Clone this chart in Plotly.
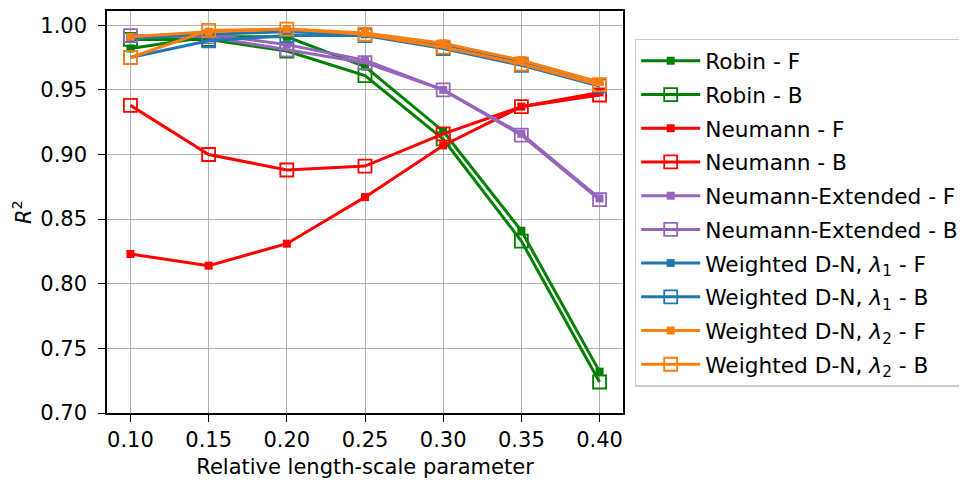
import plotly.graph_objects as go

x_vals = [0.10, 0.15, 0.20, 0.25, 0.30, 0.35, 0.40]

robin_f = [0.982, 0.991, 0.991, 0.968, 0.918, 0.841, 0.732]
robin_b = [0.989, 0.989, 0.980, 0.961, 0.912, 0.833, 0.724]
neumann_f = [0.823, 0.814, 0.831, 0.867, 0.907, 0.937, 0.948]
neumann_b = [0.938, 0.900, 0.888, 0.891, 0.916, 0.937, 0.946]
next_f = [0.990, 0.993, 0.985, 0.973, 0.950, 0.916, 0.866]
next_b = [0.992, 0.991, 0.981, 0.971, 0.950, 0.915, 0.865]
wdn1_f = [0.990, 0.993, 0.995, 0.993, 0.985, 0.972, 0.956]
wdn1_b = [0.975, 0.988, 0.992, 0.992, 0.982, 0.969, 0.953]
wdn2_f = [0.991, 0.995, 0.997, 0.994, 0.986, 0.973, 0.956]
wdn2_b = [0.975, 0.996, 0.997, 0.993, 0.983, 0.970, 0.954]

x_ticks = [0.10, 0.15, 0.20, 0.25, 0.30, 0.35, 0.40]
y_ticks = [0.70, 0.75, 0.80, 0.85, 0.90, 0.95, 1.00]

series = [
    ("Robin - F", robin_f, "#008000", "F"),
    ("Robin - B", robin_b, "#008000", "B"),
    ("Neumann - F", neumann_f, "#ff0000", "F"),
    ("Neumann - B", neumann_b, "#ff0000", "B"),
    ("Neumann-Extended - F", next_f, "#9467bd", "F"),
    ("Neumann-Extended - B", next_b, "#9467bd", "B"),
    ("Weighted D-N, <i>λ</i><sub>1</sub> - F", wdn1_f, "#1f77b4", "F"),
    ("Weighted D-N, <i>λ</i><sub>1</sub> - B", wdn1_b, "#1f77b4", "B"),
    ("Weighted D-N, <i>λ</i><sub>2</sub> - F", wdn2_f, "#ff7f0e", "F"),
    ("Weighted D-N, <i>λ</i><sub>2</sub> - B", wdn2_b, "#ff7f0e", "B"),
]

fig = go.Figure()
for i, (name, vals, color, kind) in enumerate(series):
    if kind == "F":
        marker = dict(symbol="square", size=8, color=color, line=dict(width=0))
    else:
        marker = dict(symbol="square-open", size=13, color=color, line=dict(width=1.8, color=color))
    fig.add_trace(go.Scatter(
        x=x_vals, y=vals, name=name, mode="lines+markers",
        line=dict(color=color, width=3), marker=marker,
        legendgroup=f"g{i}",
    ))

font = "DejaVu Sans"
# the page body has an 8px margin, so the figure is sized/offset to compensate
fig.update_layout(
    width=959, height=474,
    margin=dict(l=99, r=343, t=3, b=69),
    plot_bgcolor="white", paper_bgcolor="white",
    font=dict(family=font, size=21, color="black"),
    showlegend=True,
    legend=dict(
        x=1.0207, y=0.931, xanchor="left", yanchor="top",
        bgcolor="white", bordercolor="#cccccc", borderwidth=1.5,
        font=dict(family=font, size=21.7, color="black"),
        itemwidth=59, tracegroupgap=2.5, traceorder="grouped",
    ),
)
fig.update_xaxes(
    range=[0.085, 0.415], tickvals=x_ticks, tickformat=".2f",
    showgrid=True, gridcolor="#b0b0b0", gridwidth=1.3,
    showline=True, linecolor="black", linewidth=1.5, mirror=True,
    ticks="outside", ticklen=7, tickwidth=1.3, tickcolor="black",
    zeroline=False, automargin=False,
    title=dict(text="Relative length-scale parameter", standoff=8,
               font=dict(family=font, size=21)),
)
fig.update_yaxes(
    range=[0.70, 1.011], tickvals=y_ticks, tickformat=".2f",
    showgrid=True, gridcolor="#b0b0b0", gridwidth=1.3,
    showline=True, linecolor="black", linewidth=1.5, mirror=True,
    ticks="outside", ticklen=7, tickwidth=1.3, tickcolor="black",
    zeroline=False, automargin=False, ticklabelstandoff=7,
    title=dict(text="<i>R</i><sup>2</sup>", standoff=6,
               font=dict(family=font, size=21)),
)

fig.write_html("out.html")
